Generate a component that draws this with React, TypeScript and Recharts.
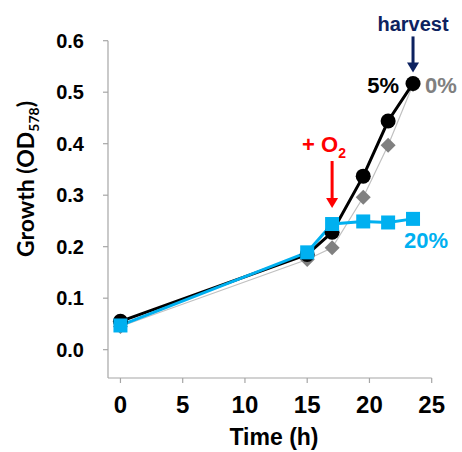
import React from 'react';
import { LineChart, Line, XAxis, YAxis, ReferenceDot } from 'recharts';

const timeH = [0, 15, 17, 19.5, 21.5, 23.5];
const od0pct = [0.045, 0.175, 0.198, 0.296, 0.397, 0.515];
const od5pct = [0.055, 0.185, 0.228, 0.337, 0.444, 0.517];
const od20pct = [0.047, 0.189, 0.244, 0.249, 0.247, 0.254];
const xTicks = [0, 5, 10, 15, 20, 25];
const yTicks = [0, 0.1, 0.2, 0.3, 0.4, 0.5, 0.6];

const harvestT = 23.5;
const o2T = 17;

const data = timeH.map((t, i) => ({ t, o0: od0pct[i], o5: od5pct[i], o20: od20pct[i] }));

const ARIAL = '"Liberation Sans", Arial, sans-serif';
const BLUE = '#00b0f0';
const GRAY = '#808080';
const NAVY = '#0d2260';
const RED = '#ff0000';

const Diamond = (p: any) => {
  const { cx, cy } = p;
  if (cx == null || cy == null) return null;
  const h = 7.5;
  return <polygon key={`d${p.index}`} points={`${cx},${cy - h} ${cx + h},${cy} ${cx},${cy + h} ${cx - h},${cy}`} fill={GRAY} stroke="none" />;
};

const Square = (p: any) => {
  const { cx, cy } = p;
  if (cx == null || cy == null) return null;
  return <rect key={`s${p.index}`} x={cx - 7} y={cy - 7} width={14} height={14} fill={BLUE} stroke="none" />;
};

const Circle = (p: any) => {
  const { cx, cy } = p;
  if (cx == null || cy == null) return null;
  return <circle key={`c${p.index}`} cx={cx} cy={cy} r={7.5} fill="#000" stroke="none" />;
};

const DownArrow = ({ x, top, tip, color }: any) => (
  <g>
    <rect x={x - 1.5} y={top} width={3} height={tip - top - 8} fill={color} />
    <polygon points={`${x - 6},${tip - 10} ${x + 6},${tip - 10} ${x},${tip}`} fill={color} />
  </g>
);

const HarvestShape = (p: any) => {
  const { cx, cy } = p;
  return (
    <g>
      <DownArrow x={cx} top={cy - 47} tip={cy - 11} color={NAVY} />
      <text x={cx} y={cy - 52.5} textAnchor="middle" fontFamily={ARIAL} fontWeight="bold" fontSize={20} fill={NAVY}>harvest</text>
      <text x={cx - 14} y={cy + 9.5} textAnchor="end" fontFamily={ARIAL} fontWeight="bold" fontSize={22} fill="#000">5%</text>
      <text x={cx + 12} y={cy + 9.5} textAnchor="start" fontFamily={ARIAL} fontWeight="bold" fontSize={22} fill={GRAY}>0%</text>
    </g>
  );
};

const O2Shape = (p: any) => {
  const { cx, cy } = p;
  return (
    <g>
      <DownArrow x={cx} top={cy - 63} tip={cy - 16} color={RED} />
      <text x={cx - 30} y={cy - 72} textAnchor="start" fontFamily={ARIAL} fontWeight="bold" fontSize={22} fill={RED}>
        + O<tspan fontSize={14} dy={6}>2</tspan>
      </text>
    </g>
  );
};

const Label20Shape = (p: any) => {
  const { cx, cy } = p;
  return (
    <text x={cx - 9} y={cy + 29} textAnchor="start" fontFamily={ARIAL} fontWeight="bold" fontSize={22} fill={BLUE}>20%</text>
  );
};

const YLabel = () => (
  <text x={0} y={0} transform="translate(34,179) rotate(-90)" textAnchor="middle" fontFamily='Lato, "Open Sans", sans-serif' fontWeight="bold" fontSize={23} fill="#000">
    Growth (OD<tspan fontSize={14} dy={5}>578</tspan><tspan dy={-5}>)</tspan>
  </text>
);

const XLabel = () => (
  <text x={274} y={445} textAnchor="middle" fontFamily={ARIAL} fontWeight="bold" fontSize={23} fill="#000">Time (h)</text>
);

export default function App() {
  return (
    <div style={{ position: 'absolute', left: 0, top: 0, width: 462, height: 452, background: '#fff' }}>
      <LineChart width={462} height={452} data={data} margin={{ top: 40.7, right: 30.3, bottom: 0, left: 0 }}>
        <XAxis
          dataKey="t"
          type="number"
          domain={[-1, 25]}
          ticks={xTicks}
          allowDataOverflow
          height={74}
          axisLine={{ stroke: '#a6a6a6', strokeWidth: 1.2 }}
          tickLine={{ stroke: '#a6a6a6', strokeWidth: 1.2 }}
          tickSize={5}
          tickMargin={13}
          tick={{ fontSize: 24, fontWeight: 'bold', fill: '#000', fontFamily: ARIAL }}
          label={<XLabel />}
        />
        <YAxis
          type="number"
          domain={[-0.055, 0.6]}
          ticks={yTicks}
          allowDataOverflow
          width={108}
          axisLine={{ stroke: '#a6a6a6', strokeWidth: 1.2 }}
          tickLine={{ stroke: '#a6a6a6', strokeWidth: 1.2 }}
          tickSize={5}
          tickMargin={19}
          tickFormatter={(v: number) => v.toFixed(1)}
          tick={{ fontSize: 20, fontWeight: 'bold', fill: '#000', fontFamily: ARIAL }}
          label={<YLabel />}
        />
        <Line dataKey="o0" stroke="#c0c0c0" strokeWidth={1.2} dot={Diamond} isAnimationActive={false} />
        <Line dataKey="o5" stroke="#000" strokeWidth={3} dot={Circle} isAnimationActive={false} />
        <Line dataKey="o20" stroke={BLUE} strokeWidth={3} dot={Square} isAnimationActive={false} />
        <ReferenceDot x={harvestT} y={od5pct[5]} r={0} shape={HarvestShape} ifOverflow="visible" />
        <ReferenceDot x={o2T} y={od20pct[2]} r={0} shape={O2Shape} ifOverflow="visible" />
        <ReferenceDot x={harvestT} y={od20pct[5]} r={0} shape={Label20Shape} ifOverflow="visible" />
      </LineChart>
    </div>
  );
}
